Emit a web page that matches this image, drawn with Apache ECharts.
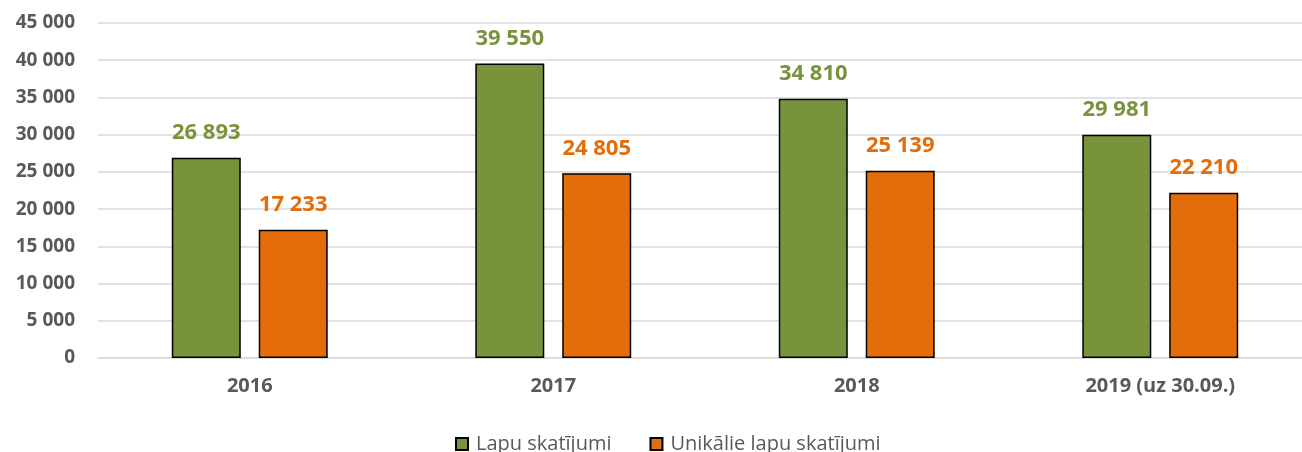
<!DOCTYPE html>
<html>
<head>
<meta charset="utf-8">
<script src="https://cdn.jsdelivr.net/npm/echarts@6/dist/echarts.min.js"></script>
<style>
    html, body { margin: 0; padding: 0; background: #fff; }
    #main { width: 1302px; height: 452px; }
</style>
</head>
<body>
<div id="main"></div>
<script>
var categories = ['2016', '2017', '2018', '2019 (uz 30.09.)'];
var pageViews = [26893, 39550, 34810, 29981];
var uniqueViews = [17233, 24805, 25139, 22210];
var seriesNames = ['Lapu skatījumi', 'Unikālie lapu skatījumi'];

function fmt(v) {
    return String(v).replace(/\B(?=(\d{3})+(?!\d))/g, ' ');
}

var myChart = echarts.init(document.getElementById('main'));
var font = 'Open Sans, Liberation Sans, sans-serif';

var option = {
    animation: false,
    textStyle: { fontFamily: font },
    grid: {
        left: 98,
        width: 1214,
        top: 23,
        bottom: 94,
        outerBoundsMode: 'none'
    },
    legend: {
        top: 429,
        left: 450,
        itemWidth: 12,
        itemHeight: 12,
        itemGap: 38,
        icon: 'rect',
        textStyle: { color: '#595959', fontSize: 20, fontFamily: font, padding: [0, 0, 0, 3] },
        data: seriesNames
    },
    xAxis: {
        type: 'category',
        data: categories,
        axisTick: { show: false },
        axisLine: { lineStyle: { color: '#d9d9d9', width: 1.5 } },
        axisLabel: {
            color: '#595959',
            fontWeight: 'bold',
            fontSize: 20,
            margin: 18,
            fontFamily: font
        }
    },
    yAxis: {
        type: 'value',
        min: 0,
        max: 45000,
        interval: 5000,
        axisLine: { show: false },
        axisTick: { show: false },
        splitLine: { lineStyle: { color: '#d9d9d9', width: 1.5 } },
        axisLabel: {
            color: '#595959',
            fontWeight: 'bold',
            fontSize: 19,
            margin: 23,
            fontFamily: font,
            formatter: fmt
        }
    },
    series: [{
        name: seriesNames[0],
        type: 'bar',
        barWidth: 69,
        barGap: '26%',
        data: pageViews,
        itemStyle: { color: '#77933c', borderColor: '#000', borderWidth: 1.5 },
        label: {
            show: true,
            position: 'top',
            distance: 14,
            color: '#77933c',
            fontWeight: 'bold',
            fontSize: 22,
            fontFamily: font,
            formatter: function (p) { return fmt(p.value); }
        }
    }, {
        name: seriesNames[1],
        type: 'bar',
        barWidth: 69,
        barGap: '26%',
        data: uniqueViews,
        itemStyle: { color: '#e46c0a', borderColor: '#000', borderWidth: 1.5 },
        label: {
            show: true,
            position: 'top',
            distance: 14,
            color: '#e46c0a',
            fontWeight: 'bold',
            fontSize: 22,
            fontFamily: font,
            formatter: function (p) { return fmt(p.value); }
        }
    }]
};

myChart.setOption(option);
</script>
</body>
</html>
